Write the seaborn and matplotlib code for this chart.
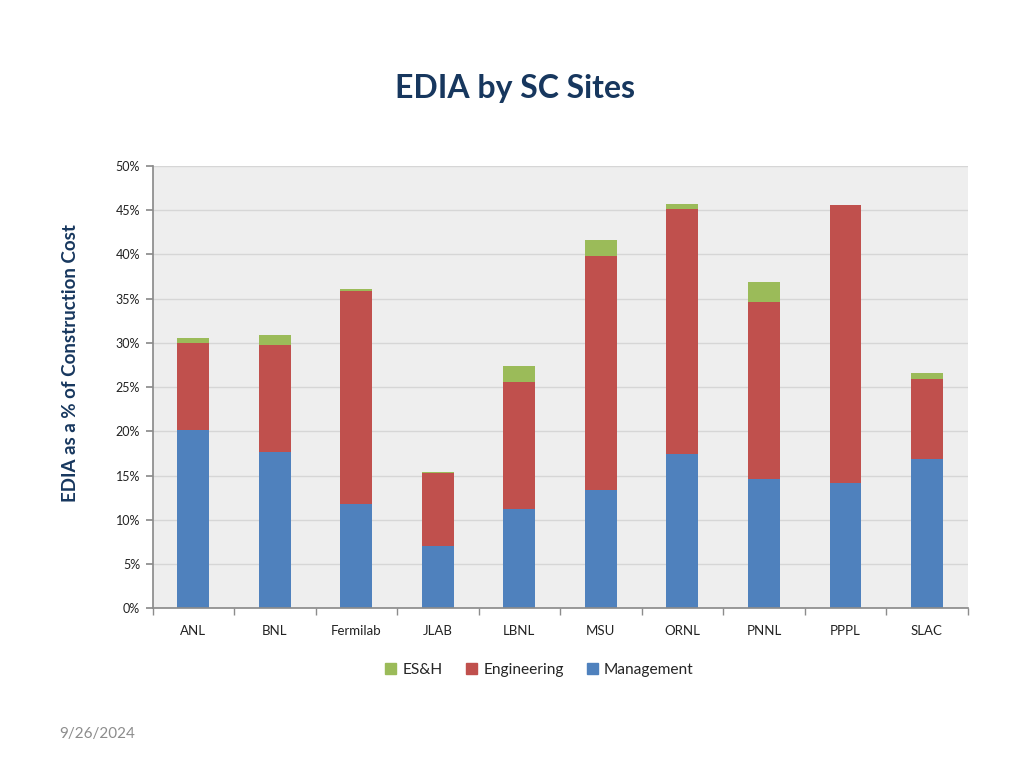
import seaborn as sns
import matplotlib.pyplot as plt
import pandas as pd
from matplotlib.patches import Patch
from matplotlib.ticker import PercentFormatter, FixedLocator

# data (percent of construction cost)
sites = ["ANL", "BNL", "Fermilab", "JLAB", "LBNL", "MSU", "ORNL", "PNNL", "PPPL", "SLAC"]
management = [20.2, 17.7, 11.8, 7.05, 11.25, 13.35, 17.4, 14.6, 14.2, 16.9]
engineering = [9.8, 12.0, 24.1, 8.25, 14.3, 26.45, 27.7, 20.0, 31.4, 9.0]
esh = [0.6, 1.2, 0.15, 0.1, 1.85, 1.8, 0.6, 2.3, 0.0, 0.7]

df = pd.DataFrame({"site": sites, "Management": management,
                   "Engineering": engineering, "ES&H": esh})
df["eng_top"] = df["Management"] + df["Engineering"]
df["esh_top"] = df["eng_top"] + df["ES&H"]

sns.set_theme(style="white")
plt.rcParams["font.family"] = ["Lato", "DejaVu Sans"]

c_mgmt = "#4F81BD"
c_eng = "#C0504D"
c_esh = "#9BBB59"
navy = "#17375E"

fig = plt.figure(figsize=(10.24, 7.68), dpi=100)
ax = fig.add_axes([0.149, 0.208, 0.796, 0.576])
ax.set_facecolor("#EEEEEE")

# stacked bars by layering cumulative totals
bar_kw = dict(width=0.39, saturation=1, linewidth=0, ax=ax)
sns.barplot(data=df, x="site", y="esh_top", color=c_esh, **bar_kw)
sns.barplot(data=df, x="site", y="eng_top", color=c_eng, **bar_kw)
sns.barplot(data=df, x="site", y="Management", color=c_mgmt, **bar_kw)

ax.set_ylim(0, 50)
ax.set_xlim(-0.5, len(sites) - 0.5)
ax.set_yticks(range(0, 51, 5))
ax.yaxis.set_major_formatter(PercentFormatter(decimals=0))
ax.grid(axis="y", color="#D6D6D6", linewidth=1)
ax.set_axisbelow(True)

for s in ["top", "right"]:
    ax.spines[s].set_visible(False)
ax.spines["left"].set_color("#8C8C8C")
ax.spines["bottom"].set_color("#8C8C8C")

ax.tick_params(axis="y", labelsize=9, colors="#8C8C8C", labelcolor="#222222",
               direction="out", length=5, left=True, pad=4)
ax.tick_params(axis="x", which="major", length=0, labelsize=9.5, labelcolor="#222222", pad=12)
ax.xaxis.set_minor_locator(FixedLocator([i + 0.5 for i in range(-1, len(sites))]))
ax.tick_params(axis="x", which="minor", length=5, color="#8C8C8C", direction="out", bottom=True)

ax.set_xlabel("")
ax.set_ylabel("EDIA as a % of Construction Cost", fontsize=13.5, fontweight="bold",
              color=navy)
ax.yaxis.set_label_coords(-0.09, 0.554)

fig.text(0.503, 0.885, "EDIA by SC Sites", ha="center", va="center",
         fontsize=23, fontweight="bold", color=navy)

handles = [Patch(color=c_esh, label="ES&H"),
           Patch(color=c_eng, label="Engineering"),
           Patch(color=c_mgmt, label="Management")]
fig.legend(handles=handles, loc="center", bbox_to_anchor=(0.527, 0.128), ncol=3,
           frameon=False, fontsize=11.2, handlelength=0.7, handleheight=0.7,
           handletextpad=0.4, columnspacing=1.5)

fig.text(0.058, 0.044, "9/26/2024", fontsize=11, color="#8C8C8C", va="center")

fig.savefig("out.png", dpi=100)
